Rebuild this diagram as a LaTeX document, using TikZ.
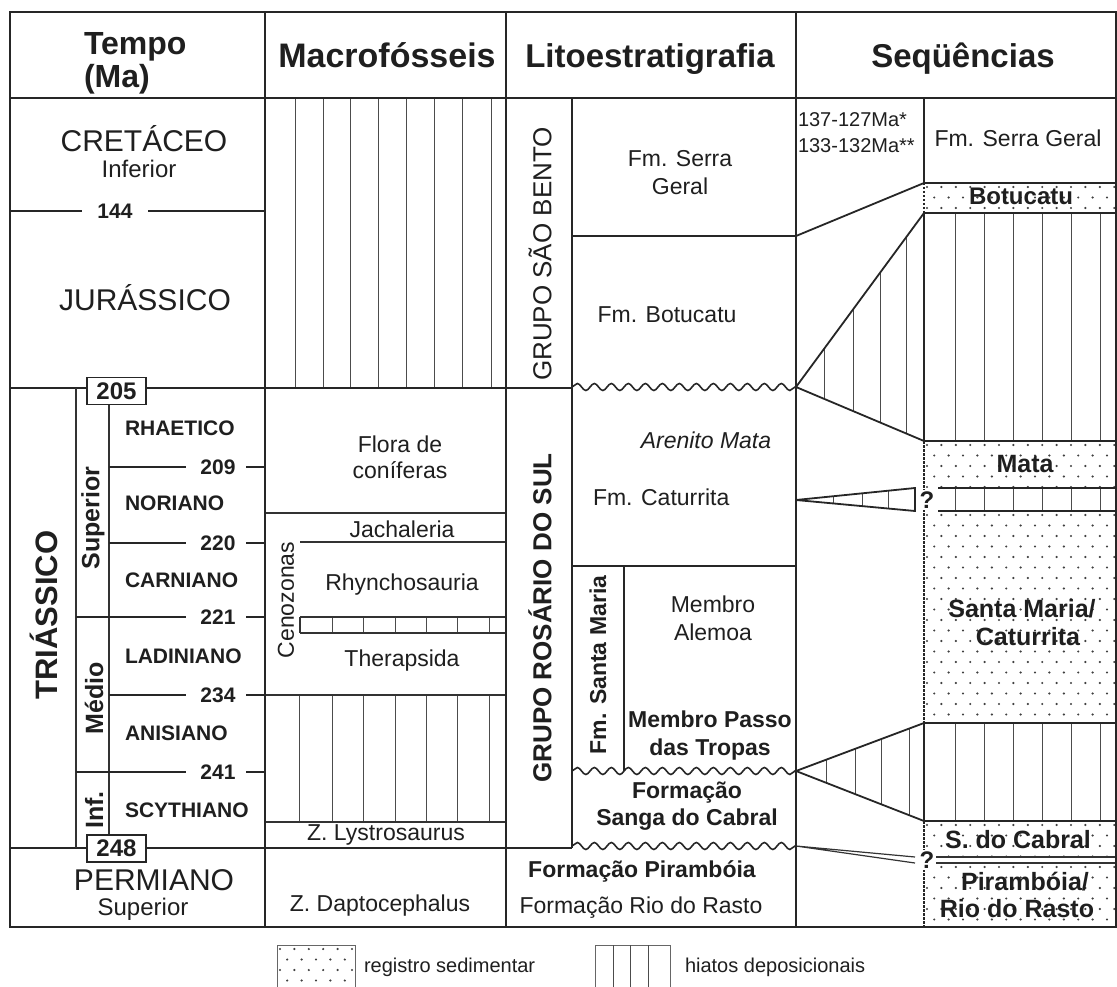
\documentclass[tikz,border=0pt]{standalone}
\usepackage{fontspec}
\setmainfont{Liberation Sans}
\usetikzlibrary{decorations.pathmorphing}
\newcommand{\fsz}[1]{\fontsize{#1}{#1}\selectfont}
\newcommand{\dotrect}[4]{%
  \begin{scope}
    \clip (#1,#2) rectangle (#3,#4);
    \pgfmathtruncatemacro{\nrows}{((#4)-(#2))/10.5+1}%
    \pgfmathtruncatemacro{\ncols}{((#3)-(#1))/14.4+1}%
    \foreach \ri in {0,...,\nrows}{%
      \foreach \ci in {0,...,\ncols}{%
        \pgfmathsetmacro{\xx}{#1+3+\ci*14.4+mod(\ri,2)*7.2}%
        \pgfmathsetmacro{\yy}{#2+4+\ri*10.5}%
        \fill[dotcol] (\xx,\yy) circle (1.2pt);
      }}
  \end{scope}}
\begin{document}
\begin{tikzpicture}[x=1pt,y=-1pt,
  outerline/.style={line width=2.8pt, black!85},
  divline/.style={line width=2.4pt, black!85},
  midline/.style={line width=1.8pt, black!85},
  thinline/.style={line width=1.2pt, black!80},
  hatchline/.style={line width=1pt, black!70},
  wavyline/.style={line width=1.6pt, black!85, decorate, decoration={snake, segment length=17pt, amplitude=3.5pt}},
  dotcol/.style={black!75},
  txt/.style={inner sep=0pt, outer sep=0pt, text=black!88, anchor=base},
  rtxt/.style={inner sep=0pt, outer sep=0pt, text=black!88, rotate=90, anchor=center},
  qmark/.style={fill=white, inner sep=1.5pt, text=black!88, font={\fsz{24}\bfseries}},
  numbox/.style={draw=black!85, line width=1.3pt, fill=white, inner sep=0pt, minimum width=59pt, minimum height=27pt, font={\fsz{24}\bfseries}, text=black!88},
  legbox/.style={draw=black!60, line width=1pt},
]
\fill[white] (0,0) rectangle (1117,987);
\useasboundingbox (0,0) rectangle (1117,987);

% ---------- dotted regions (registro sedimentar)
\dotrect{924}{183}{1116}{213}
\dotrect{924}{441}{1116}{488}
\dotrect{924}{511}{1116}{723}
\dotrect{924}{821}{1116}{857}
\dotrect{924}{863}{1116}{927}
\dotrect{277}{945}{355}{992}

% ---------- hatches (hiatos)
\foreach \xx in {295,323,350,378,406,434,462,491} \draw[hatchline] (\xx,98) -- (\xx,388);
\foreach \xx in {299,332,363,395,426,457,489} \draw[hatchline] (\xx,695) -- (\xx,822);
\foreach \xx in {332,363,395,426,457,489} \draw[hatchline] (\xx,617) -- (\xx,633);
\foreach \xx in {955,984,1013,1042,1071,1100} {
  \draw[hatchline] (\xx,213) -- (\xx,441);
  \draw[hatchline] (\xx,488) -- (\xx,511);
  \draw[hatchline] (\xx,723) -- (\xx,821);
}

% ---------- wedges in the sequence column
\coordinate (w1a) at (796,236); \coordinate (w1b) at (924,183);
\coordinate (w2t) at (796,387); \coordinate (w2a) at (924,213); \coordinate (w2b) at (924,441);
\coordinate (w3t) at (796,500); \coordinate (w3a) at (915,488); \coordinate (w3b) at (915,511);
\coordinate (w4t) at (796,771); \coordinate (w4a) at (924,723); \coordinate (w4b) at (924,821);
\coordinate (w5t) at (796,846); \coordinate (w5a) at (915,857); \coordinate (w5b) at (915,863);
\begin{scope}
  \clip (w2t) -- (w2a) -- (w2b) -- cycle;
  \foreach \xx in {824,853,880,906} \draw[hatchline] (\xx,200) -- (\xx,450);
\end{scope}
\begin{scope}
  \clip (w3t) -- (w3a) -- (w3b) -- cycle;
  \foreach \xx in {833,862,888} \draw[hatchline] (\xx,480) -- (\xx,520);
\end{scope}
\begin{scope}
  \clip (w4t) -- (w4a) -- (w4b) -- cycle;
  \foreach \xx in {826,855,881,909} \draw[hatchline] (\xx,700) -- (\xx,830);
\end{scope}
\draw[midline] (w1a) -- (w1b);
\draw[midline] (w2a) -- (w2t) -- (w2b);
\draw[midline] (w3a) -- (w3t) -- (w3b) -- cycle;
\draw[midline] (w4a) -- (w4t) -- (w4b);
\draw[thinline] (w5a) -- (w5t) -- (w5b);

% ---------- sequence column horizontal lines
\foreach \yy in {183,213,441,723,821} \draw[midline] (924,\yy) -- (1116,\yy);
\foreach \yy in {488,511} \draw[midline] (938,\yy) -- (1116,\yy);
\foreach \yy in {857,863} \draw[thinline] (933,\yy) -- (1116,\yy);
% sub divider
\draw[divline] (924,98) -- (924,183) (924,213) -- (924,441) (924,723) -- (924,821);
\draw[divline, dash pattern=on 2.5pt off 1.5pt] (924,183) -- (924,213) (924,441) -- (924,723) (924,821) -- (924,927);

% ---------- tempo column lines
\draw[midline] (10,211) -- (82,211) (148,211) -- (265,211);
\draw[divline] (10,388) -- (572,388);
\draw[divline] (10,848) -- (572,848);
\draw[thinline] (76,388) -- (76,848);
\draw[thinline] (109,388) -- (109,848);
\foreach \yy/\xs in {467/109,543/109,617/76,695/109,772/76} {
  \draw[midline] (\xs,\yy) -- (186,\yy);
  \draw[midline] (246,\yy) -- (265,\yy);
}

% ---------- macrofosseis lines
\draw[thinline] (265,513) -- (506,513);
\draw[thinline] (300,542) -- (506,542);
\draw[thinline] (300,617) -- (506,617) (300,633) -- (506,633) (300,617) -- (300,633);
\draw[thinline] (265,695) -- (506,695);
\draw[thinline] (265,822) -- (506,822);

% ---------- litoestratigrafia lines
\draw[divline] (572,98) -- (572,848);
\draw[midline] (572,236) -- (796,236);
\draw[wavyline] (572,387) -- (796,387);
\draw[midline] (572,566) -- (796,566);
\draw[midline] (624,566) -- (624,771);
\draw[wavyline] (572,771) -- (796,771);
\draw[wavyline] (572,846) -- (796,846);

% ---------- frame and main dividers
\draw[divline] (10,98) -- (1116,98);
\foreach \xx in {265,506,796} \draw[divline] (\xx,12) -- (\xx,927);
\draw[outerline] (10,12) rectangle (1116,927);

% ---------- header
\node[txt, anchor=base west, font={\fsz{32}\bfseries}] (hTempo) at (84,55) {Tempo};
\node[txt, anchor=base west, font={\fsz{32}\bfseries}] (hMa) at (84,88) {(Ma)};
\node[txt, font={\fsz{34}\bfseries}] (hMacro) at (387,68) {Macrofósseis};
\node[txt, font={\fsz{33}\bfseries}] (hLito) at (650,68) {Litoestratigrafia};
\node[txt, font={\fsz{33}\bfseries}] (hSeq) at (963,68) {Seqüências};

% ---------- tempo texts
\node[txt, font={\fsz{30}}] (cret) at (144,152) {CRETÁCEO};
\node[txt, font={\fsz{24}}] (cretinf) at (139,178) {Inferior};
\node[txt, font={\fsz{21}\bfseries}] (n144) at (115,218.5) {144};
\node[txt, font={\fsz{30}}] (jur) at (145,310) {JURÁSSICO};
\node[txt, font={\fsz{30}}] (perm) at (154,890) {PERMIANO};
\node[txt, font={\fsz{24}}] (permsup) at (143,915) {Superior};
\node[rtxt, font={\fsz{31}\bfseries}] (trias) at (44,615) {TRIÁSSICO};
\node[rtxt, font={\fsz{25}\bfseries}] (tsup) at (93,518) {Superior};
\node[rtxt, font={\fsz{25}\bfseries}] (tmed) at (94,698) {Médio};
\node[rtxt, font={\fsz{25}\bfseries}] (tinf) at (94,810) {Inf.};
\node[txt, anchor=base west, font={\fsz{21}\bfseries}] (rhae) at (125,435) {RHAETICO};
\node[txt, anchor=base west, font={\fsz{21}\bfseries}] (nori) at (125,510) {NORIANO};
\node[txt, anchor=base west, font={\fsz{21}\bfseries}] (carn) at (125,587) {CARNIANO};
\node[txt, anchor=base west, font={\fsz{21}\bfseries}] (ladi) at (125,663) {LADINIANO};
\node[txt, anchor=base west, font={\fsz{21}\bfseries}] (anis) at (125,740) {ANISIANO};
\node[txt, anchor=base west, font={\fsz{21}\bfseries}] (scyt) at (125,817) {SCYTHIANO};
\node[txt, font={\fsz{21}\bfseries}] (n209) at (218,474.5) {209};
\node[txt, font={\fsz{21}\bfseries}] (n220) at (218,550.5) {220};
\node[txt, font={\fsz{21}\bfseries}] (n221) at (218,624.5) {221};
\node[txt, font={\fsz{21}\bfseries}] (n234) at (218,702.5) {234};
\node[txt, font={\fsz{21}\bfseries}] (n241) at (218,779.5) {241};
\node[numbox] (b205) at (116.5,391) {205};
\node[numbox] (b248) at (116.5,848.5) {248};

% ---------- macrofosseis texts
\node[txt, font={\fsz{23}}] (flora1) at (400,452) {Flora de};
\node[txt, font={\fsz{23}}] (flora2) at (400,478) {coníferas};
\node[txt, font={\fsz{23}}] (jach) at (402,537) {Jachaleria};
\node[txt, font={\fsz{23}}] (rhyn) at (402,590) {Rhynchosauria};
\node[txt, font={\fsz{23}}] (ther) at (402,666) {Therapsida};
\node[txt, font={\fsz{23}}] (lyst) at (386,840) {Z. Lystrosaurus};
\node[txt, font={\fsz{23}}] (dapt) at (380,911) {Z. Daptocephalus};
\node[rtxt, font={\fsz{23}}] (ceno) at (286,600) {Cenozonas};

% ---------- litoestratigrafia texts
\node[rtxt, font={\fsz{26}}] (gsb) at (540,254) {GRUPO SÃO BENTO};
\node[rtxt, font={\fsz{26}\bfseries}] (grs) at (540,618) {GRUPO ROSÁRIO DO SUL};
\node[rtxt, font={\fsz{23}\bfseries}] (fsm) at (598,665) {Fm. Santa Maria};
\node[txt, font={\fsz{23}}] (sg1) at (680,167) {Fm. Serra};
\node[txt, font={\fsz{23}}] (sg2) at (680,195) {Geral};
\node[txt, font={\fsz{23}}] (botu) at (667,323) {Fm. Botucatu};
\node[txt, font={\fsz{23}\itshape}] (aren) at (706,448) {Arenito Mata};
\node[txt, anchor=base west, font={\fsz{23}}] (catu) at (593,505) {Fm. Caturrita};
\node[txt, font={\fsz{23}}] (ale1) at (713,612) {Membro};
\node[txt, font={\fsz{23}}] (ale2) at (713,640) {Alemoa};
\node[txt, font={\fsz{23}\bfseries}] (pas1) at (710,727) {Membro Passo};
\node[txt, font={\fsz{23}\bfseries}] (pas2) at (710,755) {das Tropas};
\node[txt, font={\fsz{23}\bfseries}] (san1) at (687,798) {Formação};
\node[txt, font={\fsz{23}\bfseries}] (san2) at (687,825) {Sanga do Cabral};
\node[txt, font={\fsz{23}\bfseries}] (pira) at (642,877) {Formação Pirambóia};
\node[txt, font={\fsz{23}}] (rio) at (641,913) {Formação Rio do Rasto};

% ---------- sequence texts
\node[txt, anchor=base west, font={\fsz{20}}] (age1) at (798,127) {137-127Ma*};
\node[txt, anchor=base west, font={\fsz{20}}] (age2) at (798,153) {133-132Ma**};
\node[txt, font={\fsz{23}}] (ssg) at (1018,147) {Fm. Serra Geral};
\node[txt, font={\fsz{24}\bfseries}] (sbot) at (1021,205) {Botucatu};
\node[txt, font={\fsz{25}\bfseries}] (smat) at (1025,472) {Mata};
\node[txt, font={\fsz{25}\bfseries}] (ssm1) at (1022,617) {Santa Maria/};
\node[txt, font={\fsz{25}\bfseries}] (ssm2) at (1028,645) {Caturrita};
\node[txt, font={\fsz{25}\bfseries}] (scab) at (1018,848) {S. do Cabral};
\node[txt, font={\fsz{25}\bfseries}] (spi1) at (1025,890) {Pirambóia/};
\node[txt, font={\fsz{25}\bfseries}] (spi2) at (1017,917) {Rio do Rasto};
\node[qmark] (q1) at (927,500) {?};
\node[qmark] (q2) at (927,860) {?};

% ---------- legend
\draw[legbox] (277,945) rectangle (355,995);
\node[txt, anchor=base west, font={\fsz{20}}] (legdot) at (364,972) {registro sedimentar};
\draw[legbox] (595,945) rectangle (670,995);
\foreach \xx in {613,630,648} \draw[hatchline] (\xx,945) -- (\xx,995);
\node[txt, anchor=base west, font={\fsz{20}}] (leghat) at (685,972) {hiatos deposicionais};
\end{tikzpicture}
\end{document}
